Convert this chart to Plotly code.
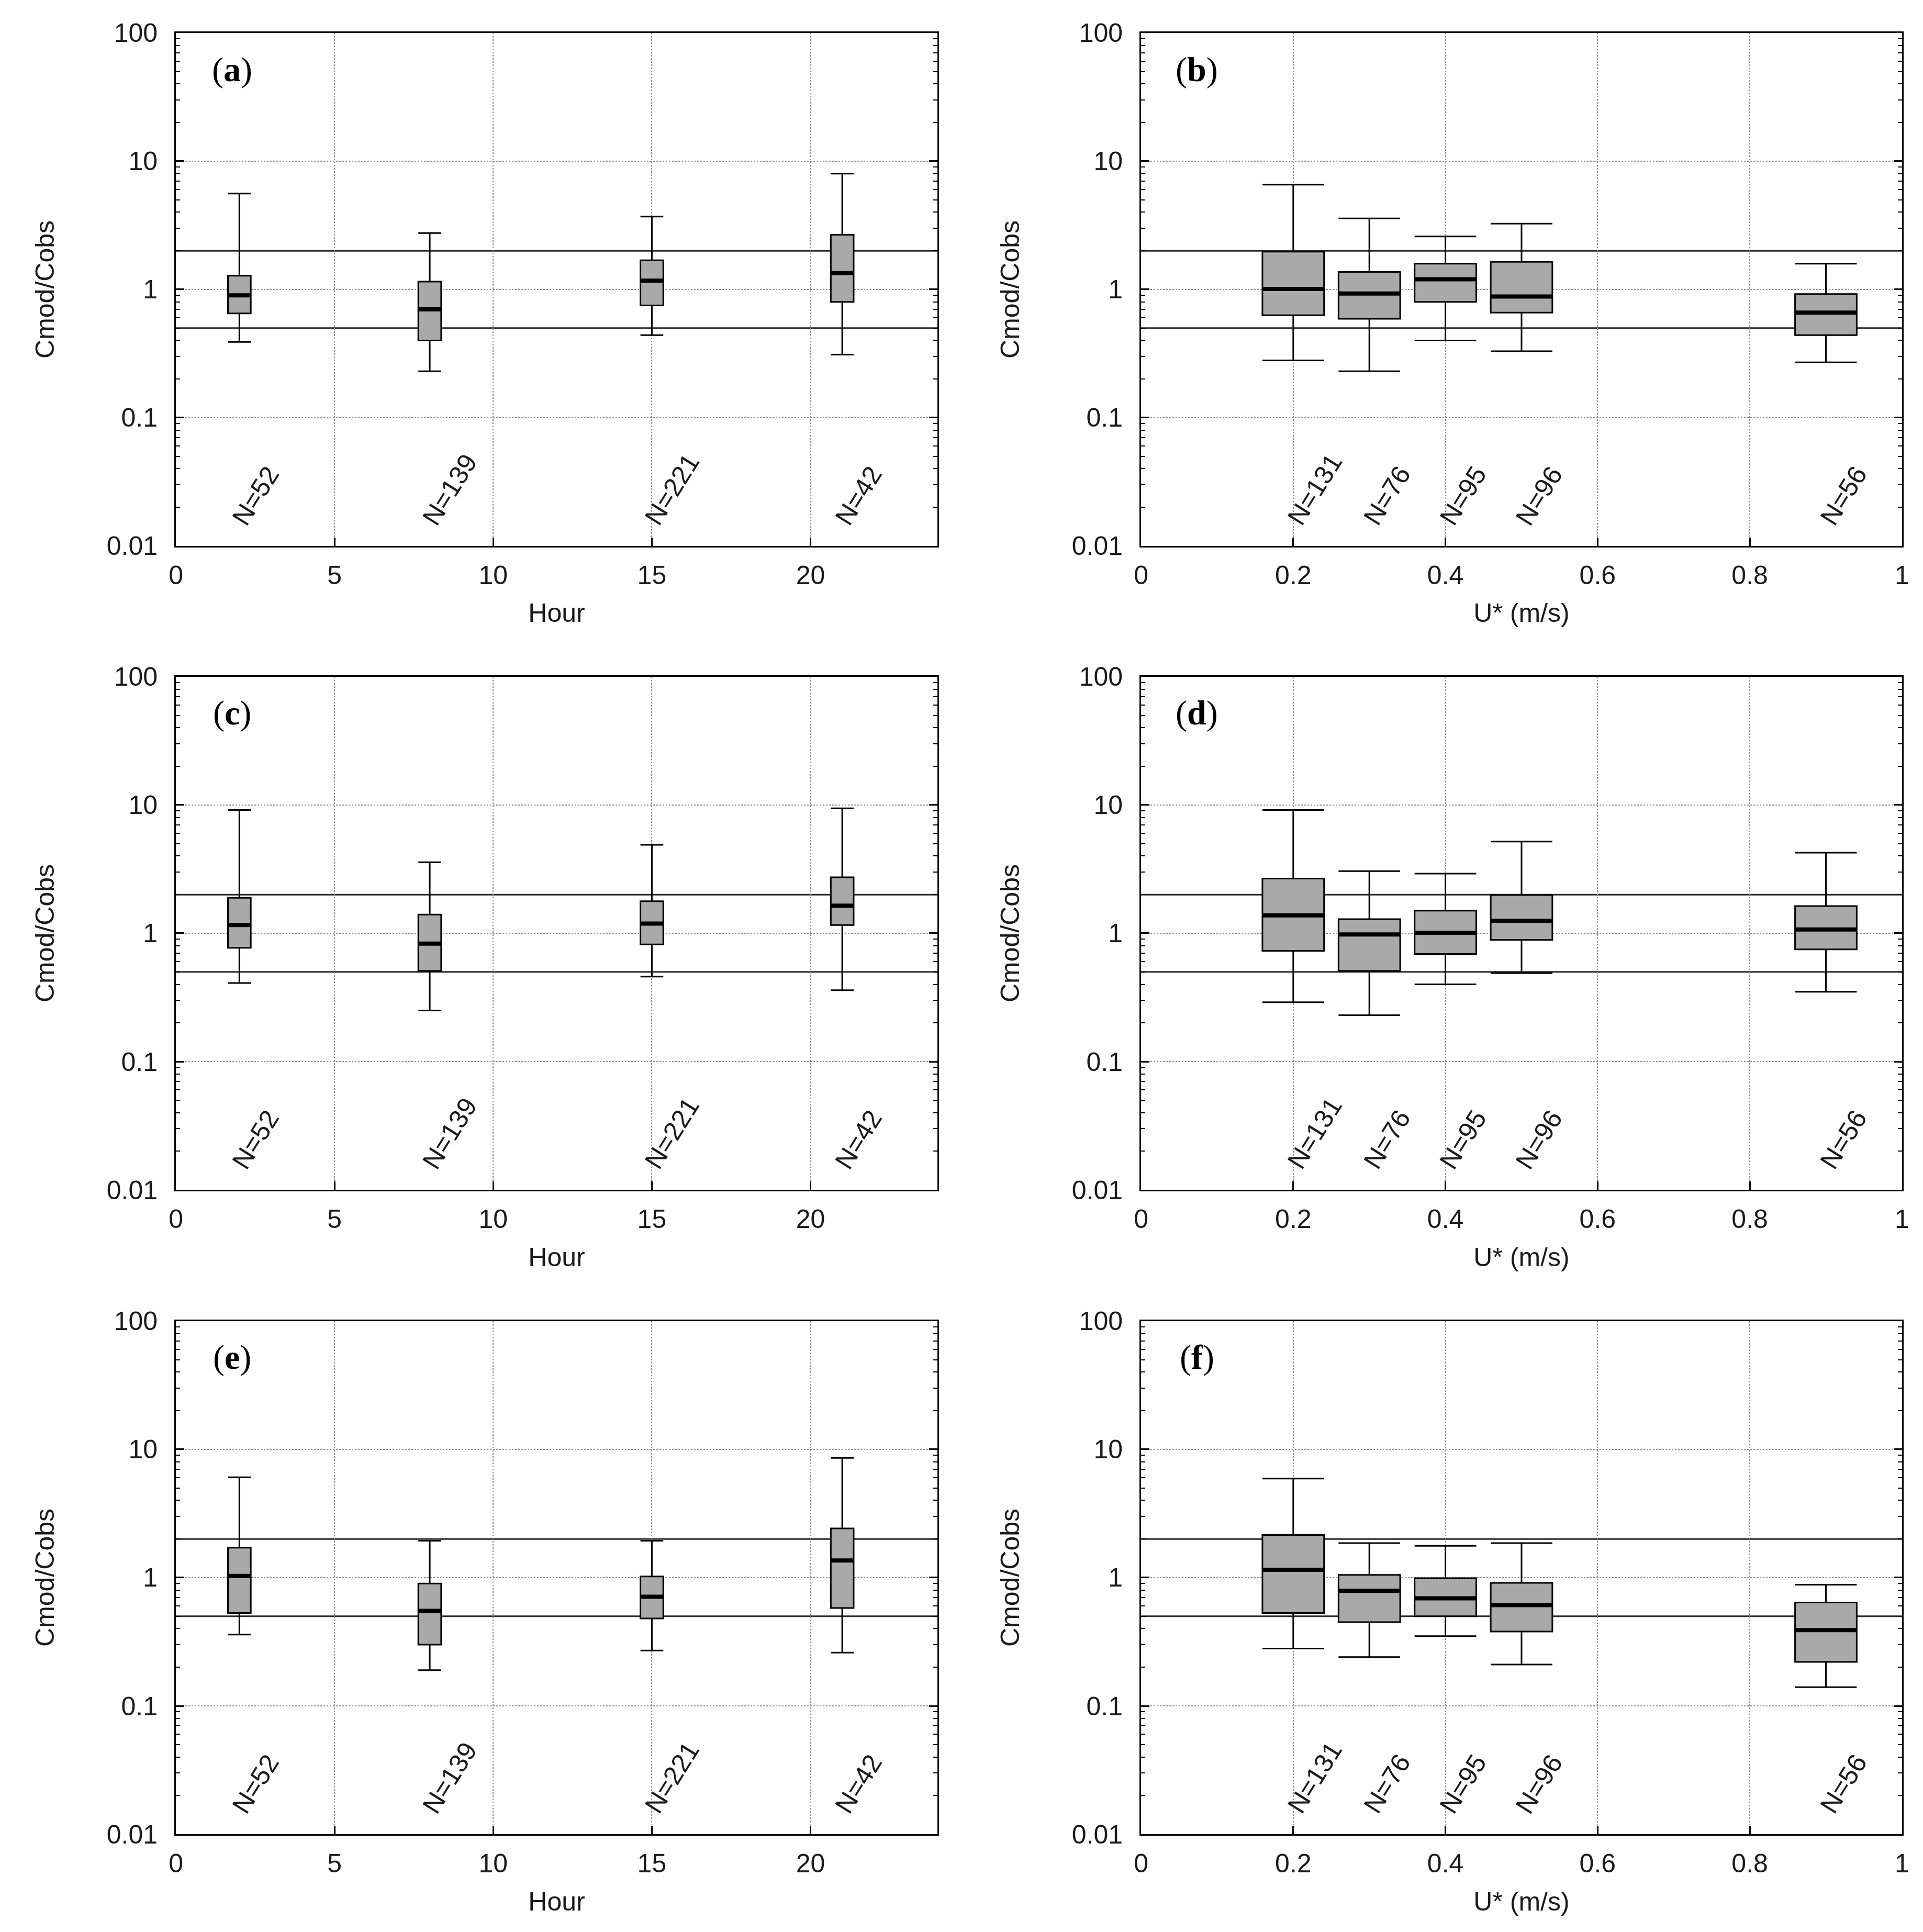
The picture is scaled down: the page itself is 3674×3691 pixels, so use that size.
import plotly.graph_objects as go
from plotly.subplots import make_subplots

"""DATA"""
# box positions and sample counts
hours = [2, 8, 15, 21]
n_hours = [52, 139, 221, 42]
ustar = [0.2, 0.3, 0.4, 0.5, 0.9]
n_ustar = [131, 76, 95, 96, 56]

# factor-of-two band
factor_lines = [0.5, 2]

# (a) hour
a_low = [0.39, 0.23, 0.44, 0.31]
a_q1 = [0.65, 0.40, 0.75, 0.80]
a_med = [0.90, 0.70, 1.17, 1.34]
a_q3 = [1.28, 1.15, 1.69, 2.67]
a_high = [5.6, 2.75, 3.7, 8.0]

# (b) u*
b_low = [0.28, 0.23, 0.40, 0.33, 0.27]
b_q1 = [0.63, 0.59, 0.80, 0.66, 0.44]
b_med = [1.01, 0.93, 1.20, 0.88, 0.66]
b_q3 = [1.97, 1.37, 1.59, 1.64, 0.92]
b_high = [6.57, 3.58, 2.59, 3.26, 1.59]

# (c) hour
c_low = [0.41, 0.25, 0.46, 0.36]
c_q1 = [0.77, 0.51, 0.82, 1.16]
c_med = [1.16, 0.83, 1.19, 1.64]
c_q3 = [1.89, 1.40, 1.78, 2.73]
c_high = [9.15, 3.58, 4.89, 9.43]

# (d) u*
d_low = [0.29, 0.23, 0.40, 0.49, 0.35]
d_q1 = [0.73, 0.51, 0.69, 0.89, 0.75]
d_med = [1.38, 0.98, 1.01, 1.25, 1.07]
d_q3 = [2.67, 1.29, 1.50, 1.99, 1.63]
d_high = [9.15, 3.05, 2.92, 5.19, 4.25]

# (e) hour
e_low = [0.36, 0.19, 0.27, 0.26]
e_q1 = [0.53, 0.30, 0.48, 0.58]
e_med = [1.03, 0.55, 0.71, 1.36]
e_q3 = [1.71, 0.90, 1.02, 2.42]
e_high = [6.05, 1.94, 1.94, 8.57]

# (f) u*
f_low = [0.28, 0.24, 0.35, 0.21, 0.14]
f_q1 = [0.53, 0.45, 0.50, 0.38, 0.22]
f_med = [1.15, 0.79, 0.69, 0.61, 0.39]
f_q3 = [2.15, 1.05, 0.99, 0.91, 0.64]
f_high = [5.92, 1.86, 1.77, 1.86, 0.88]

y_ticks = [0.01, 0.1, 1, 10, 100]
y_ticktext = ["0.01", "0.1", "1", "10", "100"]

"""FIGURE"""
W, H = 3674, 3691
fig = make_subplots(rows=3, cols=2)

SANS = "Liberation Sans"
FS = 50
TXT = "#1a1a1a"
col_dom = [[0.0893, 0.4853], [0.5912, 0.9869]]
row_dom = [[0.7196, 0.9851], [0.3863, 0.6519], [0.0528, 0.3184]]

panels = [
    ("a", 1, 1, hours, n_hours, a_low, a_q1, a_med, a_q3, a_high),
    ("b", 1, 2, ustar, n_ustar, b_low, b_q1, b_med, b_q3, b_high),
    ("c", 2, 1, hours, n_hours, c_low, c_q1, c_med, c_q3, c_high),
    ("d", 2, 2, ustar, n_ustar, d_low, d_q1, d_med, d_q3, d_high),
    ("e", 3, 1, hours, n_hours, e_low, e_q1, e_med, e_q3, e_high),
    ("f", 3, 2, ustar, n_ustar, f_low, f_q1, f_med, f_q3, f_high),
]

for i, (lab, r, c, xs, ns, lo, q1, md, q3, hi) in enumerate(panels):
    k = "" if i == 0 else str(i + 1)
    hourly = c == 1
    bw = 0.72 if hourly else 0.081

    fig.add_trace(go.Box(x=xs, q1=q1, median=md, q3=q3, lowerfence=lo, upperfence=hi,
                         width=bw, whiskerwidth=1, boxpoints=False,
                         fillcolor="#a9a9a9", line=dict(color="black", width=3),
                         showlegend=False), row=r, col=c)

    # thick median bars
    mx, my = [], []
    for x, m in zip(xs, md):
        mx += [x - bw / 2, x + bw / 2, None]
        my += [m, m, None]
    fig.add_trace(go.Scatter(x=mx, y=my, mode="lines", line=dict(color="black", width=8),
                             showlegend=False, hoverinfo="skip"), row=r, col=c)

    for v in factor_lines:
        fig.add_shape(type="line", xref="x" + k + " domain", yref="y" + k,
                      x0=0, x1=1, y0=v, y1=v, line=dict(color="#2b2b2b", width=3),
                      layer="below")

    for x, n in zip(xs, ns):
        fig.add_annotation(x=x - (0.45 if hourly else 0.017), y=-1.89, xref="x" + k, yref="y" + k,
                           text="N=" + str(n), showarrow=False, textangle=-58,
                           xanchor="left", yanchor="bottom",
                           font=dict(family=SANS, size=FS, color=TXT))

    fig.add_annotation(x=0.0735, y=0.929, xref="x" + k + " domain", yref="y" + k + " domain",
                       xanchor="center", yanchor="middle",
                       text="(<b>" + lab + "</b>)", showarrow=False,
                       font=dict(family="Liberation Serif", size=66, color="black"))

    fig.update_xaxes(domain=col_dom[c - 1],
                     range=[0, 24] if hourly else [0, 1],
                     dtick=5 if hourly else 0.2,
                     title=dict(text="Hour" if hourly else "U* (m/s)", standoff=28,
                                font=dict(family=SANS, size=FS, color=TXT)),
                     row=r, col=c)
    fig.update_yaxes(domain=row_dom[r - 1], row=r, col=c)

fig.update_xaxes(showline=True, linecolor="black", linewidth=3, mirror=True,
                 ticks="inside", ticklen=16, tickwidth=3, tickcolor="black",
                 showgrid=True, gridcolor="#8c8c8c", griddash="dot", gridwidth=2,
                 zeroline=False, automargin=False, ticklabelstandoff=10,
                 tickfont=dict(family=SANS, size=FS, color=TXT))
fig.update_yaxes(type="log", range=[-2, 2], tickvals=y_ticks, ticktext=y_ticktext,
                 showline=True, linecolor="black", linewidth=3, mirror="ticks",
                 ticks="inside", ticklen=16, tickwidth=3, tickcolor="black",
                 minor=dict(ticks="inside", ticklen=8, tickwidth=2, tickcolor="black",
                            dtick="D1", showgrid=False),
                 showgrid=True, gridcolor="#8c8c8c", griddash="dot", gridwidth=2,
                 zeroline=False, automargin=False, ticklabelstandoff=22,
                 tickfont=dict(family=SANS, size=FS, color=TXT),
                 title=dict(text="Cmod/Cobs", standoff=85,
                            font=dict(family=SANS, size=FS, color=TXT)))

fig.update_layout(width=W, height=H, margin=dict(l=0, r=0, t=0, b=0),
                  paper_bgcolor="white", plot_bgcolor="white", showlegend=False)

fig.write_html("out.html")
